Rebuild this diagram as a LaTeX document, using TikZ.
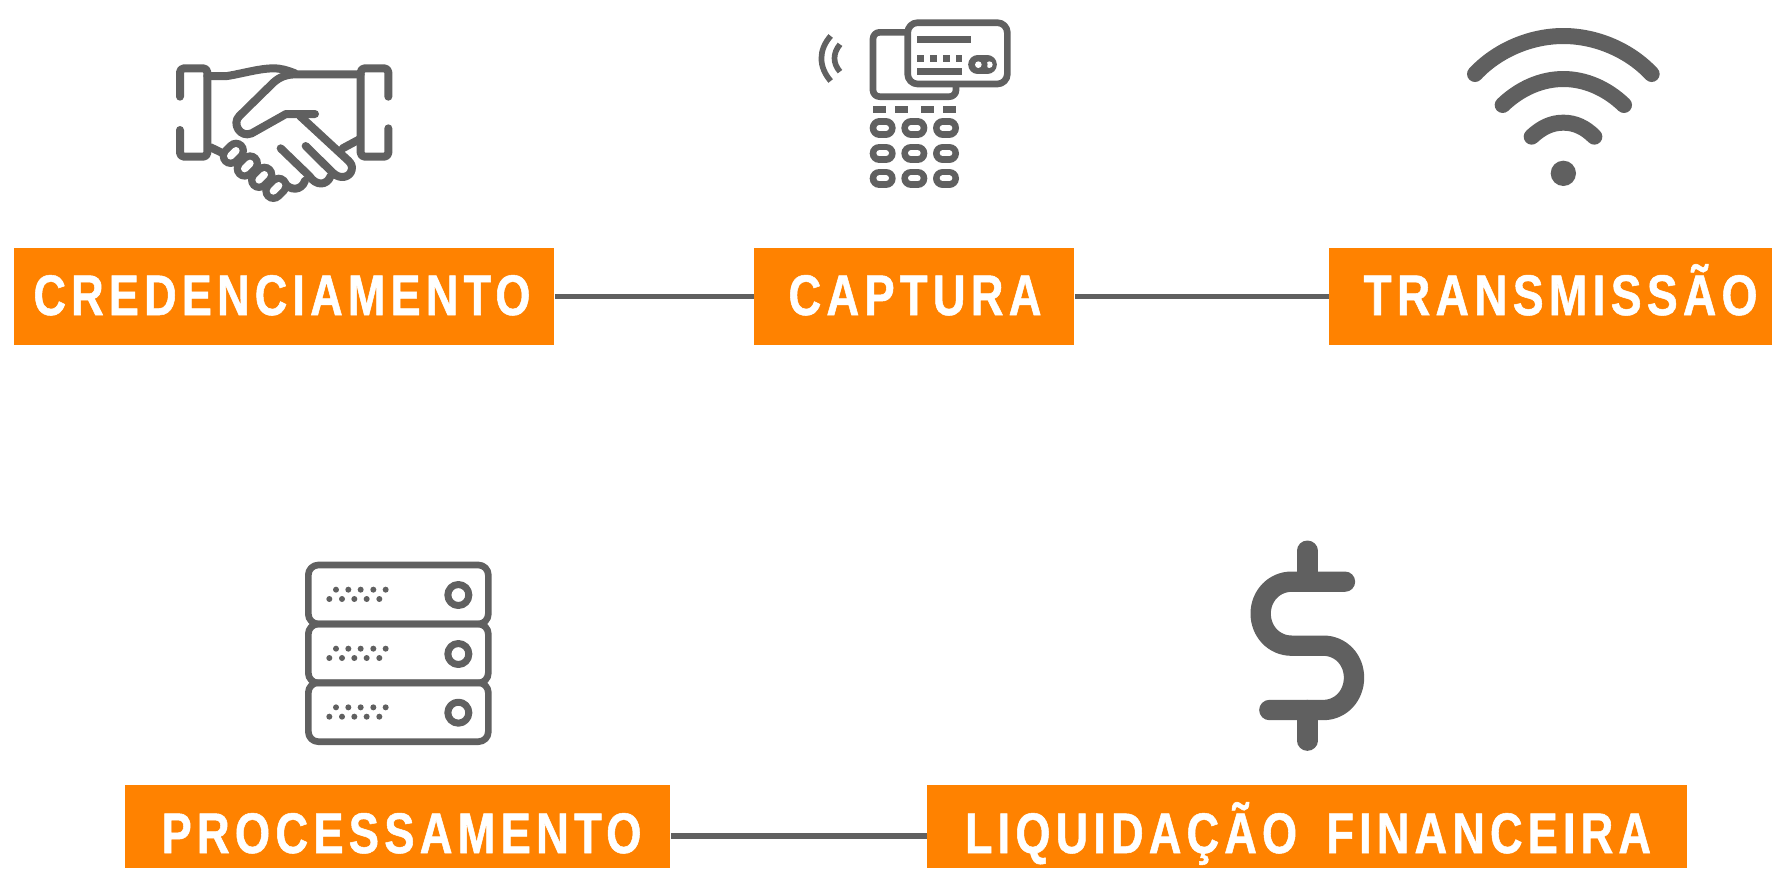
\documentclass[tikz,border=0pt]{standalone}
\usepackage{fontspec}
\newfontfamily\labfont[FakeStretch=0.78,LetterSpace=9,FakeBold=0.9]{Liberation Sans}
\definecolor{iconc}{HTML}{606060}
\definecolor{boxc}{HTML}{FF8200}
\newcommand{\lab}[2]{\resizebox{\dimexpr #1pt/2\relax}{\height}{\labfont\bfseries\fontsize{28.6pt}{30pt}\selectfont #2}}
\newcommand{\pillshape}[3]{\draw[line cap=round,iconc,zw=#1] #3; \draw[line cap=round,white,zw=#2] #3;}
\tikzset{
  zw/.style={line width=#1*0.16667pt},
  zoomed/.style={x=0.16667pt,y=-0.16667pt,iconc,line join=round},
  boxn/.style={rectangle,fill=boxc,draw=none,inner sep=0pt,anchor=north west},
  labn/.style={white,inner sep=0pt,anchor=base},
  conn/.style={iconc,line width=2.75pt},
}
\begin{document}
\begin{tikzpicture}[x=0.5pt,y=-0.5pt]
\useasboundingbox (0,0) rectangle (1772,868);
% boxes
\node[boxn,minimum width=270pt,minimum height=48.75pt] (cred) at (14,247.5) {};
\node[boxn,minimum width=160pt,minimum height=48.75pt] (capt) at (754,247.5) {};
\node[boxn,minimum width=221.5pt,minimum height=48.75pt] (tran) at (1329,247.5) {};
\node[boxn,minimum width=272.5pt,minimum height=41.5pt] (proc) at (125,785) {};
\node[boxn,minimum width=380pt,minimum height=41.5pt] (liqu) at (927,785) {};
% labels
\node[labn] (tcred) at (282,315) {\lab{497}{CREDENCIAMENTO}};
\node[labn] (tcapt) at (915,315) {\lab{253}{CAPTURA}};
\node[labn] (ttran) at (1560.5,315) {\lab{394}{TRANSMISSÃO}};
\node[labn] (tproc) at (401.5,853) {\lab{480}{PROCESSAMENTO}};
\node[labn] (tliqu) at (1308,853) {\lab{686}{LIQUIDAÇÃO\hspace{0.2em} FINANCEIRA}};
% connectors
\draw[conn] (cred.east) -- (capt.west);
\draw[conn] (capt.east) -- (tran.west);
\draw[conn] ([yshift=-4.5pt]proc.east) -- ([yshift=-4.5pt]liqu.west);
% handshake
\begin{scope}[shift={(150,40)},zoomed,zw=24,line cap=round]
\draw[rounded corners=2pt] (90,170) -- (90,85) -- (172,85) -- (172,350) -- (90,350) -- (90,270);
\draw[rounded corners=2pt] (715,170) -- (715,85) -- (632,85) -- (632,350) -- (715,350) -- (715,265);
\draw (172,108) -- (232,108) .. controls (280,100) and (330,85) .. (370,85) .. controls (395,85) and (415,92) .. (435,100);
\draw (632,103) -- (440,103) .. controls (410,103) and (390,110) .. (370,128) -- (268,228) .. controls (245,250) and (270,295) .. (305,280) -- (408,222) -- (495,222);
\draw (467,318) -- (548,398) .. controls (570,420) and (600,412) .. (605,390) .. controls (608,378) and (603,370) .. (595,362) -- (450,228);
\draw (392,325) -- (478,408) .. controls (498,438) and (530,438) .. (542,408);
\draw (465,422) .. controls (455,452) and (420,455) .. (400,425);
\draw (578,325) -- (630,297);
\draw (182,322) -- (215,338);
\foreach \cx/\cy in {250/340,292/378,335/412,378/445}{
  \draw[line cap=round,zw=66] (\cx-8,\cy+8) -- (\cx+8,\cy-8);
}
\foreach \cx/\cy in {250/340,292/378,335/412,378/445}{
  \draw[line cap=round,white,zw=22] (\cx-8,\cy+8) -- (\cx+8,\cy-8);
}
\end{scope}
% card terminal
\begin{scope}[shift={(800,0)},zoomed,zw=20]
\draw[rounded corners=3.3pt] (219,97) rectangle (468,290);
\draw[fill=white,rounded corners=5pt] (323,68) rectangle (622,252);
\fill (351,108) rectangle (513,129);
\foreach \qx in {351,390,429,467}{\fill (\qx,165) rectangle (\qx+20,186);}
\fill (351,204) rectangle (486,225);
\draw[line cap=round,zw=57,draw=iconc] (533,194) -- (562,194);
\fill[white] (535,194) circle (10);
\fill[white] (568,194) circle (10);
\draw[zw=7] (553,172) .. controls (561,185) and (561,203) .. (553,216);
\foreach \qx in {220,285,363,430}{\fill (\qx,318) rectangle (\qx+38,339);}
\foreach \qy in {384,460,535}{\foreach \qx in {248,343,438}{
  \pillshape{58}{18}{(\qx-10,\qy) -- (\qx+10,\qy)}
}}
\draw[zw=17] (92,108) .. controls (55,150) and (55,200) .. (92,243);
\draw[zw=17] (120,133) .. controls (98,160) and (98,190) .. (120,215);
\end{scope}
% wifi
\begin{scope}[shift={(1440,10)},zoomed,zw=48,line cap=round]
\draw (105,192) .. controls (170,122) and (270,78) .. (370,78) .. controls (470,78) and (570,122) .. (635,192);
\draw (188,285) .. controls (240,235) and (305,207) .. (370,207) .. controls (435,207) and (500,235) .. (552,285);
\draw (275,380) .. controls (305,352) and (335,338) .. (370,338) .. controls (405,338) and (435,352) .. (463,380);
\fill (370,490) circle (38);
\end{scope}
% server
\begin{scope}[shift={(290,550)},zoomed,zw=20]
\foreach \dy in {0,177,353}{
  \draw[rounded corners=5pt] (55,45+\dy) rectangle (595,222+\dy);
  \foreach \qx in {138,175,212,250,287}{\fill (\qx,119+\dy) circle (9);}
  \foreach \qx in {118,156,193,230,268}{\fill (\qx,147+\dy) circle (9);}
  \draw[zw=21] (505,135+\dy) circle (31.5);
}
\end{scope}
% dollar
\begin{scope}[shift={(1230,530)},zoomed,zw=61,line cap=round]
\draw (232,62) -- (232,155);
\draw (232,540) -- (232,632);
\draw (345,155) -- (185,155) .. controls (132,155) and (92,198) .. (92,251) .. controls (92,304) and (132,347) .. (185,347) -- (280,347) .. controls (333,347) and (372,390) .. (372,443) .. controls (372,496) and (333,540) .. (280,540) -- (118,540);
\end{scope}
\end{tikzpicture}
\end{document}
